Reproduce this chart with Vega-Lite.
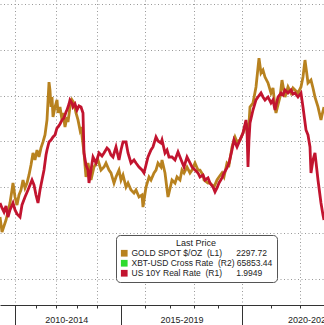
{
  "$schema": "https://vega.github.io/schema/vega-lite/v6.json",
  "width": 324,
  "height": 305,
  "autosize": {"type": "none"},
  "padding": {"left": 0, "top": 0, "right": 0, "bottom": 20},
  "background": "white",
  "config": {"view": {"stroke": null}, "font": "Liberation Sans"},
  "datasets": {
    "gold": [
      {"t": 2009.268, "price": 1006}, {"t": 2009.366, "price": 908}, {"t": 2009.463, "price": 947}, {"t": 2009.561, "price": 986},
      {"t": 2009.658, "price": 1039}, {"t": 2009.756, "price": 1098}, {"t": 2009.853, "price": 1183}, {"t": 2009.902, "price": 1228},
      {"t": 2010.0, "price": 1137}, {"t": 2010.098, "price": 1084}, {"t": 2010.195, "price": 1150}, {"t": 2010.293, "price": 1183},
      {"t": 2010.39, "price": 1248}, {"t": 2010.488, "price": 1196}, {"t": 2010.585, "price": 1228}, {"t": 2010.683, "price": 1281},
      {"t": 2010.78, "price": 1346}, {"t": 2010.878, "price": 1425}, {"t": 2010.976, "price": 1379}, {"t": 2011.073, "price": 1444},
      {"t": 2011.171, "price": 1399}, {"t": 2011.268, "price": 1458}, {"t": 2011.366, "price": 1497}, {"t": 2011.463, "price": 1543},
      {"t": 2011.561, "price": 1641}, {"t": 2011.659, "price": 1889}, {"t": 2011.707, "price": 1837}, {"t": 2011.756, "price": 1726},
      {"t": 2011.805, "price": 1791}, {"t": 2011.854, "price": 1660}, {"t": 2011.951, "price": 1726}, {"t": 2012.049, "price": 1772},
      {"t": 2012.098, "price": 1687}, {"t": 2012.195, "price": 1726}, {"t": 2012.293, "price": 1641}, {"t": 2012.341, "price": 1687},
      {"t": 2012.439, "price": 1595}, {"t": 2012.537, "price": 1660}, {"t": 2012.585, "price": 1628}, {"t": 2012.683, "price": 1726},
      {"t": 2012.78, "price": 1772}, {"t": 2012.878, "price": 1752}, {"t": 2012.976, "price": 1687}, {"t": 2013.073, "price": 1641},
      {"t": 2013.171, "price": 1575}, {"t": 2013.22, "price": 1595}, {"t": 2013.366, "price": 1425}, {"t": 2013.463, "price": 1268},
      {"t": 2013.561, "price": 1359}, {"t": 2013.707, "price": 1248}, {"t": 2013.854, "price": 1333}, {"t": 2014.041, "price": 1379},
      {"t": 2014.166, "price": 1313}, {"t": 2014.29, "price": 1333}, {"t": 2014.372, "price": 1359}, {"t": 2014.497, "price": 1313},
      {"t": 2014.579, "price": 1294}, {"t": 2014.703, "price": 1228}, {"t": 2014.786, "price": 1268}, {"t": 2014.91, "price": 1313},
      {"t": 2014.993, "price": 1248}, {"t": 2015.076, "price": 1281}, {"t": 2015.2, "price": 1202}, {"t": 2015.283, "price": 1228},
      {"t": 2015.407, "price": 1183}, {"t": 2015.531, "price": 1163}, {"t": 2015.614, "price": 1183}, {"t": 2015.738, "price": 1137},
      {"t": 2015.862, "price": 1150}, {"t": 2015.903, "price": 1071}, {"t": 2016.028, "price": 1202}, {"t": 2016.152, "price": 1268},
      {"t": 2016.234, "price": 1248}, {"t": 2016.359, "price": 1294}, {"t": 2016.441, "price": 1313}, {"t": 2016.524, "price": 1359},
      {"t": 2016.648, "price": 1333}, {"t": 2016.69, "price": 1379}, {"t": 2016.814, "price": 1294}, {"t": 2016.938, "price": 1137},
      {"t": 2016.979, "price": 1163}, {"t": 2017.103, "price": 1248}, {"t": 2017.228, "price": 1228}, {"t": 2017.31, "price": 1268},
      {"t": 2017.434, "price": 1248}, {"t": 2017.517, "price": 1313}, {"t": 2017.6, "price": 1294}, {"t": 2017.724, "price": 1333},
      {"t": 2017.848, "price": 1294}, {"t": 2017.931, "price": 1313}, {"t": 2018.055, "price": 1359}, {"t": 2018.179, "price": 1313},
      {"t": 2018.262, "price": 1313}, {"t": 2018.386, "price": 1281}, {"t": 2018.428, "price": 1248}, {"t": 2018.593, "price": 1228},
      {"t": 2018.676, "price": 1228}, {"t": 2018.841, "price": 1202}, {"t": 2018.966, "price": 1248}, {"t": 2019.048, "price": 1268},
      {"t": 2019.172, "price": 1294}, {"t": 2019.255, "price": 1268}, {"t": 2019.379, "price": 1359}, {"t": 2019.462, "price": 1346},
      {"t": 2019.586, "price": 1464}, {"t": 2019.669, "price": 1510}, {"t": 2019.71, "price": 1529}, {"t": 2019.793, "price": 1497},
      {"t": 2019.917, "price": 1510}, {"t": 2020.034, "price": 1556}, {"t": 2020.138, "price": 1621}, {"t": 2020.207, "price": 1510},
      {"t": 2020.276, "price": 1726}, {"t": 2020.379, "price": 1752}, {"t": 2020.483, "price": 1857}, {"t": 2020.586, "price": 2046},
      {"t": 2020.655, "price": 1948}, {"t": 2020.724, "price": 1968}, {"t": 2020.793, "price": 1922}, {"t": 2020.897, "price": 1883},
      {"t": 2021.0, "price": 1817}, {"t": 2021.069, "price": 1850}, {"t": 2021.138, "price": 1726}, {"t": 2021.172, "price": 1687},
      {"t": 2021.241, "price": 1739}, {"t": 2021.31, "price": 1791}, {"t": 2021.379, "price": 1902}, {"t": 2021.483, "price": 1791},
      {"t": 2021.586, "price": 1857}, {"t": 2021.69, "price": 1817}, {"t": 2021.759, "price": 1850}, {"t": 2021.828, "price": 1837},
      {"t": 2021.931, "price": 1817}, {"t": 2022.034, "price": 1857}, {"t": 2022.103, "price": 1922}, {"t": 2022.172, "price": 2033},
      {"t": 2022.241, "price": 1935}, {"t": 2022.276, "price": 1883}, {"t": 2022.379, "price": 1902}, {"t": 2022.448, "price": 1850},
      {"t": 2022.517, "price": 1791}, {"t": 2022.621, "price": 1726}, {"t": 2022.724, "price": 1641}, {"t": 2022.759, "price": 1673},
      {"t": 2022.828, "price": 1726}
    ],
    "rate": [
      {"t": 2009.268, "rate": 1.341}, {"t": 2009.366, "rate": 1.45}, {"t": 2009.463, "rate": 1.538}, {"t": 2009.561, "rate": 1.407},
      {"t": 2009.658, "rate": 1.647}, {"t": 2009.756, "rate": 1.494}, {"t": 2009.902, "rate": 1.341}, {"t": 2010.0, "rate": 1.494},
      {"t": 2010.098, "rate": 1.581}, {"t": 2010.244, "rate": 1.647}, {"t": 2010.341, "rate": 1.385}, {"t": 2010.488, "rate": 1.211},
      {"t": 2010.634, "rate": 1.058}, {"t": 2010.732, "rate": 0.949}, {"t": 2010.829, "rate": 0.84}, {"t": 2010.927, "rate": 0.949},
      {"t": 2011.024, "rate": 1.167}, {"t": 2011.122, "rate": 1.341}, {"t": 2011.22, "rate": 1.058}, {"t": 2011.317, "rate": 0.84},
      {"t": 2011.415, "rate": 0.622}, {"t": 2011.512, "rate": 0.294}, {"t": 2011.561, "rate": 0.185}, {"t": 2011.659, "rate": 0.011},
      {"t": 2011.756, "rate": -0.033}, {"t": 2011.854, "rate": -0.098}, {"t": 2011.951, "rate": -0.142}, {"t": 2012.049, "rate": -0.295},
      {"t": 2012.098, "rate": -0.316}, {"t": 2012.195, "rate": -0.382}, {"t": 2012.293, "rate": -0.469}, {"t": 2012.39, "rate": -0.513},
      {"t": 2012.488, "rate": -0.644}, {"t": 2012.537, "rate": -0.687}, {"t": 2012.634, "rate": -0.818}, {"t": 2012.683, "rate": -0.906},
      {"t": 2012.78, "rate": -0.84}, {"t": 2012.829, "rate": -0.753}, {"t": 2012.927, "rate": -0.818}, {"t": 2013.024, "rate": -0.687},
      {"t": 2013.122, "rate": -0.775}, {"t": 2013.22, "rate": -0.753}, {"t": 2013.317, "rate": -0.622}, {"t": 2013.366, "rate": 0.251},
      {"t": 2013.463, "rate": 0.513}, {"t": 2013.561, "rate": 0.622}, {"t": 2013.61, "rate": 0.905}, {"t": 2013.707, "rate": 0.622},
      {"t": 2013.805, "rate": 0.338}, {"t": 2013.951, "rate": 0.469}, {"t": 2014.083, "rate": 0.251}, {"t": 2014.207, "rate": 0.316},
      {"t": 2014.29, "rate": 0.251}, {"t": 2014.414, "rate": 0.142}, {"t": 2014.497, "rate": 0.185}, {"t": 2014.579, "rate": 0.294},
      {"t": 2014.662, "rate": 0.338}, {"t": 2014.786, "rate": 0.12}, {"t": 2014.91, "rate": 0.403}, {"t": 2014.993, "rate": 0.185},
      {"t": 2015.076, "rate": 0.011}, {"t": 2015.2, "rate": 0.011}, {"t": 2015.283, "rate": 0.251}, {"t": 2015.407, "rate": 0.469},
      {"t": 2015.531, "rate": 0.403}, {"t": 2015.614, "rate": 0.469}, {"t": 2015.738, "rate": 0.556}, {"t": 2015.862, "rate": 0.622},
      {"t": 2015.945, "rate": 0.687}, {"t": 2016.028, "rate": 0.513}, {"t": 2016.11, "rate": 0.338}, {"t": 2016.234, "rate": 0.185},
      {"t": 2016.317, "rate": 0.12}, {"t": 2016.441, "rate": -0.098}, {"t": 2016.524, "rate": -0.011}, {"t": 2016.648, "rate": 0.033},
      {"t": 2016.69, "rate": -0.033}, {"t": 2016.814, "rate": 0.251}, {"t": 2016.897, "rate": 0.185}, {"t": 2016.979, "rate": 0.338},
      {"t": 2017.103, "rate": 0.338}, {"t": 2017.228, "rate": 0.403}, {"t": 2017.352, "rate": 0.229}, {"t": 2017.434, "rate": 0.338},
      {"t": 2017.517, "rate": 0.447}, {"t": 2017.6, "rate": 0.556}, {"t": 2017.724, "rate": 0.338}, {"t": 2017.848, "rate": 0.469},
      {"t": 2017.931, "rate": 0.556}, {"t": 2018.055, "rate": 0.622}, {"t": 2018.179, "rate": 0.687}, {"t": 2018.262, "rate": 0.774},
      {"t": 2018.386, "rate": 0.731}, {"t": 2018.469, "rate": 0.84}, {"t": 2018.593, "rate": 0.796}, {"t": 2018.676, "rate": 0.905},
      {"t": 2018.8, "rate": 0.993}, {"t": 2018.883, "rate": 1.101}, {"t": 2018.966, "rate": 1.014}, {"t": 2019.048, "rate": 0.905},
      {"t": 2019.172, "rate": 0.796}, {"t": 2019.255, "rate": 0.687}, {"t": 2019.379, "rate": 0.578}, {"t": 2019.462, "rate": 0.469},
      {"t": 2019.586, "rate": 0.185}, {"t": 2019.669, "rate": -0.033}, {"t": 2019.793, "rate": 0.12}, {"t": 2019.917, "rate": -0.033},
      {"t": 2020.034, "rate": -0.186}, {"t": 2020.138, "rate": -0.469}, {"t": 2020.172, "rate": -0.251}, {"t": 2020.207, "rate": 0.556},
      {"t": 2020.241, "rate": -0.033}, {"t": 2020.276, "rate": -0.404}, {"t": 2020.379, "rate": -0.687}, {"t": 2020.483, "rate": -0.906},
      {"t": 2020.552, "rate": -0.971}, {"t": 2020.655, "rate": -1.058}, {"t": 2020.724, "rate": -0.971}, {"t": 2020.793, "rate": -0.906},
      {"t": 2020.897, "rate": -0.971}, {"t": 2021.0, "rate": -0.84}, {"t": 2021.069, "rate": -0.906}, {"t": 2021.138, "rate": -0.687},
      {"t": 2021.241, "rate": -0.971}, {"t": 2021.345, "rate": -1.058}, {"t": 2021.414, "rate": -1.015}, {"t": 2021.483, "rate": -1.124},
      {"t": 2021.586, "rate": -1.058}, {"t": 2021.69, "rate": -1.124}, {"t": 2021.759, "rate": -1.036}, {"t": 2021.828, "rate": -1.058},
      {"t": 2021.931, "rate": -0.971}, {"t": 2022.034, "rate": -1.058}, {"t": 2022.103, "rate": -0.753}, {"t": 2022.207, "rate": -0.251},
      {"t": 2022.276, "rate": -0.142}, {"t": 2022.345, "rate": 0.12}, {"t": 2022.379, "rate": 0.687}, {"t": 2022.448, "rate": 0.403},
      {"t": 2022.517, "rate": 0.251}, {"t": 2022.621, "rate": 0.84}, {"t": 2022.724, "rate": 1.341}, {"t": 2022.793, "rate": 1.603},
      {"t": 2022.828, "rate": 1.712}
    ]
  },
  "layer": [
    {
      "data": {"name": "gold"},
      "mark": {"type": "line", "strokeWidth": 2.8, "clip": true},
      "encoding": {
        "x": {
          "field": "t", "type": "quantitative",
          "scale": {"domain": [2009.268, 2014, 2020, 2022.828], "range": [0, 97, 242, 324], "nice": false, "zero": false},
          "axis": {
            "orient": "bottom",
            "title": null,
            "values": [2010, 2011, 2012, 2013, 2014, 2015, 2016, 2017, 2018, 2019, 2020, 2021, 2022, 2012.5, 2017.5, 2022.31],
            "domainColor": "#333", "domainWidth": 1,
            "tickColor": "#333", "tickWidth": 1, "tickSize": 3,
            "tickOpacity": {"condition": {"test": "datum.value % 1 != 0", "value": 0}, "value": 1},
            "grid": true,
            "gridColor": "#999999",
            "gridDash": [1, 2.5],
            "gridWidth": 1,
            "gridOpacity": {"condition": {"test": "datum.value % 2 == 0", "value": 1}, "value": 0},
            "labelExpr": "datum.value == 2012.5 ? '2010-2014' : datum.value == 2017.5 ? '2015-2019' : datum.value > 2022 ? '2020-2024' : ''",
            "labelFont": "Liberation Sans",
            "labelFontSize": 9,
            "labelColor": "#222",
            "labelPadding": 7,
            "labelOverlap": false,
            "labelBound": false,
            "labelFlush": false
          }
        },
        "y": {
          "field": "price", "type": "quantitative",
          "scale": {"domain": [430, 2426], "nice": false, "zero": false},
          "axis": {
            "title": null, "labels": false, "ticks": false, "domain": false,
            "values": [600, 900, 1200, 1500, 1800, 2100, 2400],
            "grid": true, "gridColor": "#999999", "gridDash": [1, 2.5], "gridWidth": 1
          }
        },
        "color": {
          "datum": "gold", "type": "nominal",
          "scale": {"domain": ["gold", "xbt", "rate"], "range": ["#B8821F", "#2EDB2E", "#C2142F"]},
          "legend": {
            "orient": "none", "legendX": 116, "legendY": 235,
            "title": "Last Price",
            "titleFont": "Liberation Sans", "titleFontSize": 9, "titleFontWeight": "normal", "titleColor": "#222",
            "titleAnchor": "middle", "titlePadding": 1,
            "symbolType": "square", "symbolSize": 45, "symbolStrokeWidth": 0,
            "labelFont": "Liberation Sans", "labelFontSize": 8.5, "labelColor": "#222", "labelLimit": 400, "labelOffset": 3,
            "labelExpr": "datum.value == 'gold' ? 'GOLD SPOT $/OZ\u00a0\u00a0(L1)\u00a0\u00a0\u00a0\u00a0\u00a0\u00a02297.72' : datum.value == 'xbt' ? 'XBT-USD Cross Rate\u00a0\u00a0(R2)\u00a065853.44' : 'US 10Y Real Rate\u00a0\u00a0(R1)\u00a0\u00a0\u00a0\u00a0\u00a0\u00a01.9949'",
            "rowPadding": 1,
            "strokeColor": "#555", "fillColor": "white", "cornerRadius": 4, "padding": 4,
            "encode": {"symbols": {"update": {"fill": {"scale": "color", "field": "value"}, "fillOpacity": {"value": 1}, "strokeWidth": {"value": 0}}}}
          }
        }
      }
    },
    {
      "data": {"name": "rate"},
      "mark": {"type": "line", "strokeWidth": 2.8, "clip": true},
      "encoding": {
        "x": {
          "field": "t", "type": "quantitative",
          "axis": {
            "orient": "bottom", "title": null, "values": [2010, 2015, 2020],
            "labels": false, "domain": false, "grid": false,
            "tickColor": "#333", "tickWidth": 1, "tickSize": 21
          }
        },
        "y": {
          "field": "rate", "type": "quantitative",
          "scale": {"domain": [-3.087, 3.567], "reverse": true, "nice": false, "zero": false},
          "axis": null
        },
        "color": {"datum": "rate", "type": "nominal"}
      }
    }
  ],
  "resolve": {"scale": {"y": "independent"}, "axis": {"x": "independent"}}
}
